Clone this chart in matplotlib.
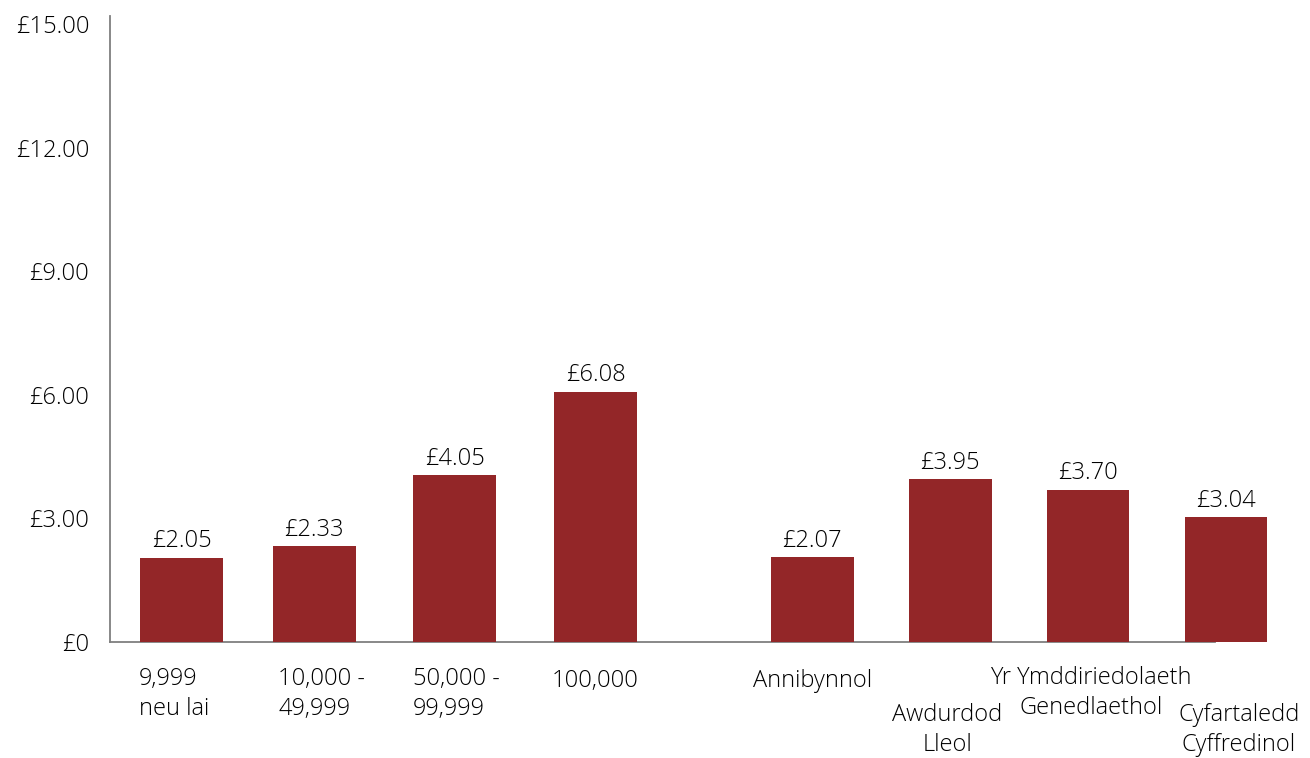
import matplotlib
matplotlib.use('Agg')
import matplotlib.pyplot as plt
import numpy as np

plt.rcParams['font.family'] = ['Open Sans', 'DejaVu Sans']
plt.rcParams['font.weight'] = 'light'

categories = ['9,999\nneu lai', '10,000 -\n49,999', '50,000 -\n99,999', '100,000',
              'Annibynnol', 'Awdurdod\nLleol', 'Yr Ymddiriedolaeth\nGenedlaethol',
              'Cyfartaledd\nCyffredinol']
values = [2.05, 2.33, 4.05, 6.08, 2.07, 3.95, 3.70, 3.04]
yticks = [0, 3, 6, 9, 12, 15]
ytick_labels = ['£0', '£3.00', '£6.00', '£9.00', '£12.00', '£15.00']

bar_color = '#932628'
axis_color = '#7f7f7f'
text_color = '#000000'
fs = 17

# bar positions: two groups with a wider gap between them
pos = np.arange(len(values)) + np.where(np.arange(len(values)) >= 4, 0.57, 0.0)
pos[1] -= 0.04
pos[2] -= 0.02

# label placement (pixel offsets from bar centre, pixel y below axis line)
lab_ha = ['left', 'left', 'left', 'center', 'center', 'center', 'center', 'center']
lab_dx = [-43, -36, -42, 0, 0, -3, 3, 13]
lab_dy = [52, 52, 52, 39, 39, 88, 51, 88]

fig = plt.figure(figsize=(13.1, 7.58), dpi=100)
ax = fig.add_axes([110 / 1310, 1 - 642 / 758, (1215 - 110) / 1310, (642 - 16) / 758])

bars = ax.bar(pos, values, width=0.6, color=bar_color, clip_on=False, zorder=3)

for x, v in zip(pos, values):
    ax.annotate('£%.2f' % v, (x, v), xytext=(0, 3), textcoords='offset points',
                ha='center', va='bottom', fontsize=fs, color=text_color,
                annotation_clip=False)

for x, t, ha, dx, dy in zip(pos, categories, lab_ha, lab_dx, lab_dy):
    ax.annotate(t, (x, 0), xytext=(dx * 0.72, -dy * 0.72), textcoords='offset points',
                ha=ha, va='center', fontsize=fs, color=text_color, linespacing=1.3,
                multialignment=ha, annotation_clip=False)

ax.set_xlim(-0.52, 7.49)
ax.set_ylim(0, 15.2)
ax.set_yticks(yticks)
ax.set_yticklabels(ytick_labels, fontsize=fs, color=text_color)
ax.set_xticks([])
ax.tick_params(axis='y', length=0, pad=15)

for s in ['top', 'right']:
    ax.spines[s].set_visible(False)
for s in ['left', 'bottom']:
    ax.spines[s].set_color(axis_color)
    ax.spines[s].set_linewidth(1.3)

fig.savefig('out.png', dpi=100)
